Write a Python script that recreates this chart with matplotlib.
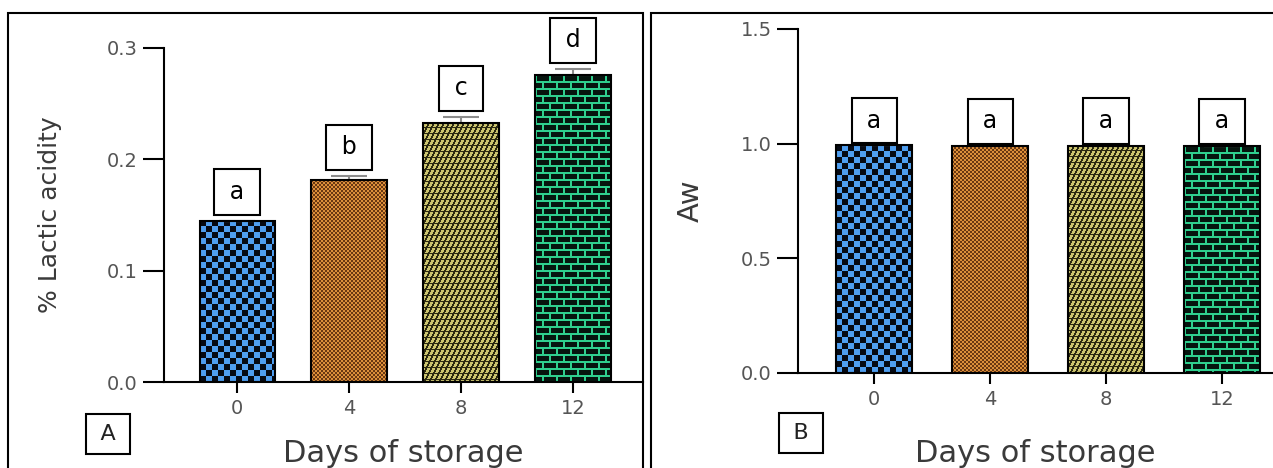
import numpy as np
import matplotlib
matplotlib.use("Agg")
import matplotlib.pyplot as plt
from matplotlib.colors import to_rgb
from matplotlib.patches import Rectangle

# values
days = ['0', '4', '8', '12']
lactic = [0.145, 0.181, 0.233, 0.276]
lactic_err = [0.0, 0.004, 0.005, 0.005]
lactic_letters = ['a', 'b', 'c', 'd']
aw = [0.993, 0.991, 0.992, 0.990]
aw_err = [0.0, 0.0, 0.0, 0.0]
aw_letters = ['a', 'a', 'a', 'a']
textures = ['checker', 'dots', 'weave', 'brick']

W, H = 1273, 468
fig = plt.figure(figsize=(W / 100, H / 100), dpi=100)


def fig_box(x0, y0, x1, y1):
    # pixel box (top-left origin) -> figure fraction [l, b, w, h]
    return [x0 / W, 1 - y1 / H, (x1 - x0) / W, (y1 - y0) / H]


def make_texture(kind, ny, nx):
    i, j = np.mgrid[0:ny, 0:nx]
    if kind == 'checker':
        dark = (i // 6 + j // 6) % 2 == 0
        light, dk = '#4f9ef0', '#060a14'
    elif kind == 'dots':
        dark = (i // 2 + j // 2) % 2 == 0
        light, dk = '#dc8f3a', '#6a3812'
    elif kind == 'weave':
        dark = ((j + i // 2) % 5 < 2) | (i % 6 == 5)
        light, dk = '#cbc46e', '#2a2810'
    else:
        shift = ((i // 7) % 2) * 7
        mortar = (i % 7 < 2) | ((j + shift) % 14 < 2)
        dark = ~mortar
        light, dk = '#2fcf8e', '#06140e'
    return np.where(dark[..., None], np.array(to_rgb(dk)), np.array(to_rgb(light)))


def panel(box, xlim, ylim, values, errs, letters, ticks, ticklabels, ylabel, ylabel_size,
          width, letter_offset, ylabel_x, xlabel_y):
    ax = fig.add_axes(fig_box(*box))
    x = np.arange(len(days))
    ax.set_xlim(xlim)
    ax.set_ylim(ylim)

    bars = ax.bar(x, values, width, facecolor='none', edgecolor='black',
                  linewidth=1.5, zorder=3)
    # patterned fill clipped to each bar
    for bar, kind in zip(bars, textures):
        x0, w, h = bar.get_x(), bar.get_width(), bar.get_height()
        (px0, py0), (px1, py1) = ax.transData.transform([(x0, 0), (x0 + w, h)])
        img = make_texture(kind, int(abs(py1 - py0)) + 1, int(abs(px1 - px0)) + 1)
        im = ax.imshow(img, extent=(x0, x0 + w, 0, h), aspect='auto',
                       interpolation='nearest', zorder=2)
        im.set_clip_path(bar)

    ax.errorbar(x, values, yerr=[np.zeros(len(errs)), errs], fmt='none',
                ecolor='#8c8c8c', elinewidth=1.5, capsize=13, capthick=1.5, zorder=2.5)

    for xi, v, e, lt in zip(x, values, errs, letters):
        ax.annotate('\u2009' + lt + '\u2009', xy=(xi, v + e), xytext=(0, letter_offset),
                    textcoords='offset points', ha='center', va='bottom', fontsize=17,
                    bbox=dict(boxstyle='square,pad=0.45', fc='white', ec='black', lw=1.5),
                    zorder=5)

    ax.set_xlim(xlim)
    ax.set_ylim(ylim)
    ax.set_xticks(x)
    ax.set_xticklabels(days)
    ax.set_yticks(ticks)
    ax.set_yticklabels(ticklabels)
    ax.tick_params(axis='y', length=15, width=1.5, pad=4, labelsize=14, labelcolor='#555555')
    ax.tick_params(axis='x', length=8, width=1.5, pad=4, labelsize=14, labelcolor='#555555')
    for s in ['top', 'right']:
        ax.spines[s].set_visible(False)
    for s in ['left', 'bottom']:
        ax.spines[s].set_linewidth(1.5)

    ax.set_ylabel(ylabel, fontsize=ylabel_size, color='#3a3a3a')
    ax.yaxis.set_label_coords(ylabel_x, 0.5)
    ax.set_xlabel('Days of storage', fontsize=22, color='#3a3a3a')
    ax.xaxis.set_label_coords(0.5, xlabel_y)
    return ax


# Panel A: lactic acidity
panel((164, 48, 643, 382), (-0.652, 3.625), (0, 0.3), lactic, lactic_err, lactic_letters,
      [0, 0.1, 0.2, 0.3], ['0.0', '0.1', '0.2', '0.3'], '% Lactic acidity', 18,
      0.67, 12, -0.213, -0.171)

# Panel B: water activity
panel((798, 29, 1273, 373), (-0.657, 3.44), (0, 1.5), aw, aw_err, aw_letters,
      [0, 0.5, 1.0, 1.5], ['0.0', '0.5', '1.0', '1.5'], 'Aw', 21,
      0.66, 9, -0.196, -0.192)

# panel frames and A / B tags
fig.add_artist(Rectangle((8 / W, -0.1), (643 - 8) / W, 1 - 13 / H + 0.1,
                         transform=fig.transFigure, fill=False, ec='black', lw=1.5))
fig.add_artist(Rectangle((651 / W, -0.1), (1275 - 651) / W, 1 - 13 / H + 0.1,
                         transform=fig.transFigure, fill=False, ec='black', lw=1.5))
for tag, px, py in [('A', 108, 434), ('B', 801, 433)]:
    fig.text(px / W, 1 - py / H, '\u2009' + tag + '\u2009', ha='center', va='center',
             fontsize=16, color='#222222',
             bbox=dict(boxstyle='square,pad=0.45', fc='white', ec='black', lw=1.5))

fig.savefig('out.png', dpi=100)
